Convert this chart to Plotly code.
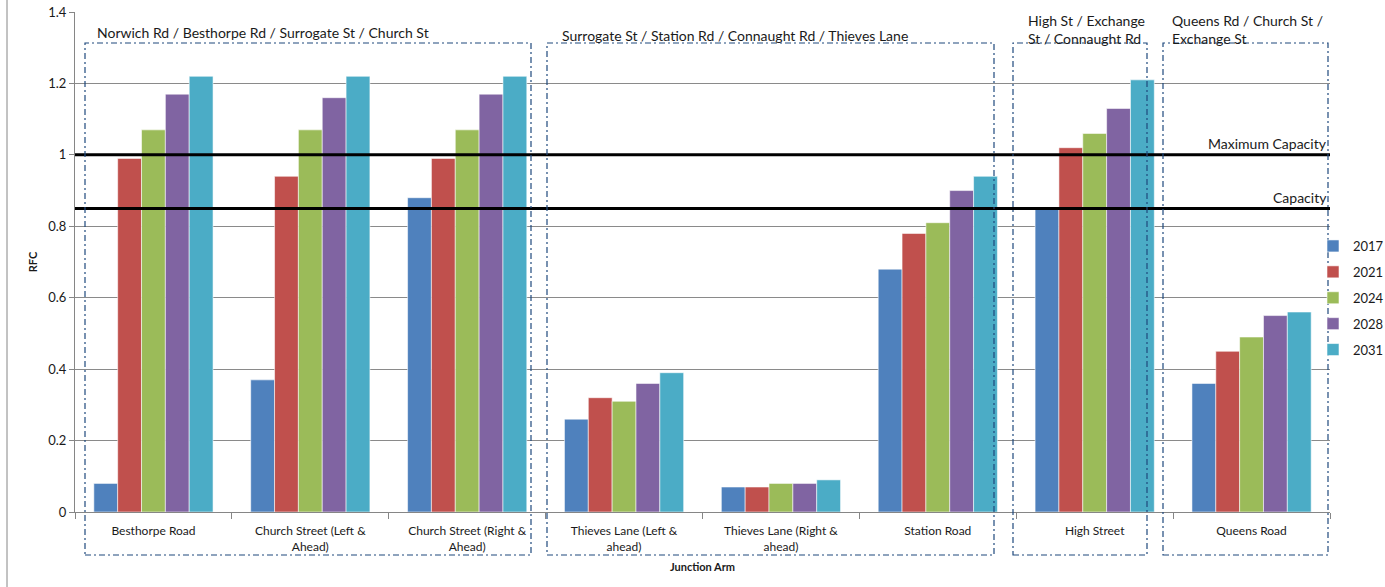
import plotly.graph_objects as go

categories = [
    "Besthorpe Road",
    "Church Street (Left &<br>Ahead)",
    "Church Street (Right &<br>Ahead)",
    "Thieves Lane (Left &<br>ahead)",
    "Thieves Lane (Right &<br>ahead)",
    "Station Road",
    "High Street",
    "Queens Road",
]
years = ["2017", "2021", "2024", "2028", "2031"]
rfc_2017 = [0.08, 0.37, 0.88, 0.26, 0.07, 0.68, 0.85, 0.36]
rfc_2021 = [0.99, 0.94, 0.99, 0.32, 0.07, 0.78, 1.02, 0.45]
rfc_2024 = [1.07, 1.07, 1.07, 0.31, 0.08, 0.81, 1.06, 0.49]
rfc_2028 = [1.17, 1.16, 1.17, 0.36, 0.08, 0.90, 1.13, 0.55]
rfc_2031 = [1.22, 1.22, 1.22, 0.39, 0.09, 0.94, 1.21, 0.56]
series = [rfc_2017, rfc_2021, rfc_2024, rfc_2028, rfc_2031]
colors = ["#4F81BD", "#C0504D", "#9BBB59", "#8064A2", "#4BACC6"]

max_capacity = 1.0
capacity = 0.85

group_titles = [
    "Norwich Rd / Besthorpe Rd / Surrogate St / Church St",
    "Surrogate St / Station Rd / Connaught Rd / Thieves Lane",
    "High St / Exchange<br>St / Connaught Rd",
    "Queens Rd / Church St /<br>Exchange St",
]

FONT = "Lato, Carlito, 'Liberation Sans', sans-serif"
W, H = 1385, 587
L, R, T, B = 75, 55, 12, 75
PW, PH = W - L - R, H - T - B


def px(x):
    return (x - L) / PW


def py(y):
    return (H - B - y) / PH


fig = go.Figure()
for i, (yr, vals) in enumerate(zip(years, series)):
    fig.add_trace(go.Bar(
        x=categories, y=vals, name=yr,
        marker=dict(color=colors[i], line=dict(color="rgba(255,255,255,0.7)", width=0.8)),
        legendgroup=yr,
    ))

shapes = []
for val in (max_capacity, capacity):
    shapes.append(dict(type="line", xref="paper", yref="y", x0=0, x1=1, y0=val, y1=val,
                       line=dict(color="black", width=3), layer="above"))
boxes = [(85, 531), (547, 994), (1013, 1147), (1163, 1328)]
for x0, x1 in boxes:
    shapes.append(dict(type="rect", xref="paper", yref="paper",
                       x0=px(x0), x1=px(x1), y0=py(555), y1=py(43),
                       line=dict(color="#1F497D", width=1.2, dash="6px,3px,2px,3px"),
                       fillcolor="rgba(0,0,0,0)", layer="above"))
shapes.append(dict(type="line", xref="paper", yref="paper", x0=px(7), x1=px(7),
                   y0=py(590), y1=py(-5), line=dict(color="#868686", width=1)))

annotations = [
    dict(text=group_titles[0], x=px(95), y=py(32), xanchor="left", yanchor="middle"),
    dict(text=group_titles[1], x=px(560), y=py(35), xanchor="left", yanchor="middle"),
    dict(text=group_titles[2], x=px(1026), y=py(29), xanchor="left", yanchor="middle", align="left"),
    dict(text=group_titles[3], x=px(1170), y=py(29), xanchor="left", yanchor="middle", align="left"),
    dict(text="Maximum Capacity", x=px(1329), y=py(143), xanchor="right", yanchor="middle"),
    dict(text="Capacity", x=px(1329), y=py(197), xanchor="right", yanchor="middle"),
]
for a in annotations:
    a.update(xref="paper", yref="paper", showarrow=False, font=dict(family=FONT, size=14, color="#1a1a1a"))

fig.update_layout(
    width=W, height=H,
    margin=dict(l=L, r=R, t=T, b=B, autoexpand=False),
    paper_bgcolor="white", plot_bgcolor="white",
    barmode="group", bargap=0.24, bargroupgap=0,
    font=dict(family=FONT, size=12, color="#1a1a1a"),
    shapes=shapes, annotations=annotations,
    legend=dict(x=px(1313), xanchor="left", y=py(231), yanchor="top",
                font=dict(family=FONT, size=13, color="#1a1a1a"),
                tracegroupgap=6, itemwidth=30, bgcolor="rgba(0,0,0,0)"),
    xaxis=dict(
        type="category", showline=True, linecolor="#868686", linewidth=1,
        ticks="outside", tickson="boundaries", ticklen=6, tickcolor="#868686",
        ticklabelstandoff=8,
        tickfont=dict(family=FONT, size=12, color="#1a1a1a"),
        title=dict(text="<b>Junction Arm</b>", font=dict(family=FONT, size=11, color="#1a1a1a"), standoff=10),
    ),
    yaxis=dict(
        range=[0, 1.4], dtick=0.2, tickformat="~g",
        showline=True, linecolor="#868686", linewidth=1,
        ticks="outside", ticklen=5, tickcolor="#868686",
        showgrid=True, gridcolor="#8A8A8A", gridwidth=1,
        zeroline=False,
        tickfont=dict(family=FONT, size=13, color="#1a1a1a"),
        title=dict(text="<b>RFC</b>", font=dict(family=FONT, size=11, color="#1a1a1a"), standoff=8),
    ),
)

fig.write_html("out.html", config={"displayModeBar": False},
               post_script="document.body.style.margin='0';document.body.style.overflow='hidden';")
